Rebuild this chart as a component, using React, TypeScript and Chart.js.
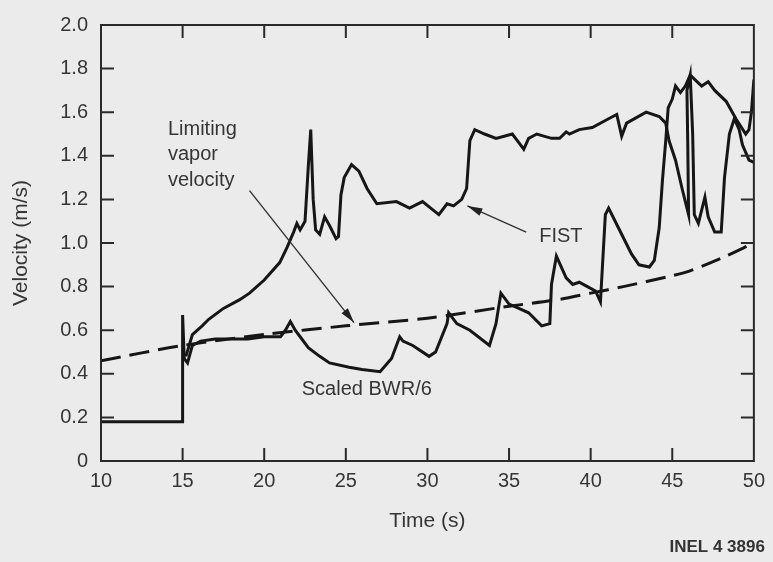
import React, { useEffect, useRef } from "react";
import { Chart, registerables } from "chart.js";

Chart.register(...registerables);

// Axis ticks
const xTickValues = [10, 15, 20, 25, 30, 35, 40, 45, 50];
const yTickValues = [0, 0.2, 0.4, 0.6, 0.8, 1.0, 1.2, 1.4, 1.6, 1.8, 2.0];

// FIST (upper curve)
const fistX = [15.2, 15.6, 16.2, 16.6, 17.5, 18.5, 19.1, 20.0, 20.95, 21.4, 21.8, 22.0, 22.2, 22.5, 22.7, 22.85, 23.0, 23.15, 23.4, 23.7, 24.0, 24.4, 24.55, 24.7, 24.9, 25.35, 25.8, 26.3, 26.9, 28.1, 28.9, 29.7, 30.2, 30.7, 31.2, 31.6, 32.1, 32.4, 32.6, 32.9, 33.5, 34.2, 34.7, 35.2, 35.6, 35.9, 36.2, 36.7, 37.6, 38.1, 38.5, 38.7, 39.3, 40.1, 41.1, 41.6, 41.9, 42.2, 43.4, 44.2, 44.6, 44.8, 45.2, 45.6, 45.9, 46.0, 45.95, 45.9, 46.1, 46.25, 46.35, 46.6, 47.0, 47.2, 47.6, 48.0, 48.2, 48.5, 48.8, 49.1, 49.3, 49.7, 50.0];
const fistY = [0.48, 0.58, 0.62, 0.65, 0.70, 0.74, 0.77, 0.83, 0.91, 0.98, 1.05, 1.09, 1.06, 1.10, 1.35, 1.52, 1.20, 1.06, 1.04, 1.12, 1.08, 1.02, 1.03, 1.22, 1.30, 1.36, 1.33, 1.25, 1.18, 1.19, 1.16, 1.19, 1.16, 1.13, 1.18, 1.17, 1.20, 1.25, 1.47, 1.52, 1.50, 1.48, 1.49, 1.50, 1.46, 1.43, 1.48, 1.50, 1.48, 1.48, 1.51, 1.50, 1.52, 1.53, 1.57, 1.59, 1.49, 1.55, 1.60, 1.58, 1.55, 1.47, 1.38, 1.25, 1.16, 1.13, 1.45, 1.70, 1.77, 1.50, 1.13, 1.09, 1.21, 1.12, 1.05, 1.05, 1.30, 1.50, 1.57, 1.52, 1.45, 1.38, 1.37];

// Scaled BWR/6 (lower curve)
const bwrX = [10.0, 15.0, 15.0, 15.1, 15.3, 15.6, 16.1, 17.0, 18.0, 19.0, 20.0, 21.0, 21.3, 21.6, 21.9, 22.2, 22.7, 23.4, 24.0, 25.2, 26.0, 27.1, 27.8, 28.3, 28.5, 29.1, 30.1, 30.5, 31.2, 31.3, 31.8, 32.6, 33.8, 34.2, 34.5, 35.0, 35.6, 36.2, 37.0, 37.5, 37.6, 37.9, 38.5, 38.9, 39.3, 39.8, 40.3, 40.6, 40.9, 41.1, 41.7, 42.5, 42.96, 43.6, 43.9, 44.2, 44.4, 44.6, 44.75, 45.0, 45.2, 45.5, 45.8, 46.1, 46.8, 47.2, 47.6, 48.3, 48.9, 49.5, 49.7, 49.85, 50.0];
const bwrY = [0.18, 0.18, 0.67, 0.47, 0.45, 0.53, 0.55, 0.56, 0.56, 0.56, 0.57, 0.57, 0.60, 0.64, 0.60, 0.57, 0.52, 0.48, 0.45, 0.43, 0.42, 0.41, 0.47, 0.57, 0.55, 0.53, 0.48, 0.50, 0.63, 0.68, 0.63, 0.60, 0.53, 0.63, 0.77, 0.72, 0.70, 0.68, 0.62, 0.63, 0.81, 0.94, 0.84, 0.81, 0.82, 0.80, 0.78, 0.73, 1.13, 1.16, 1.07, 0.95, 0.90, 0.89, 0.92, 1.07, 1.29, 1.47, 1.62, 1.66, 1.72, 1.69, 1.72, 1.77, 1.72, 1.74, 1.70, 1.65, 1.57, 1.50, 1.52, 1.60, 1.75];

// Limiting vapor velocity (dashed)
const limitX = [10, 15, 20, 25, 30, 35, 38, 40, 42, 45, 46, 48, 50];
const limitY = [0.46, 0.53, 0.58, 0.62, 0.655, 0.71, 0.74, 0.77, 0.80, 0.85, 0.87, 0.93, 1.0];

// Annotation text and arrows (in data units)
const limitLabelLines = ["Limiting", "vapor", "velocity"];
const limitLabelX = 14.1;
const limitLabelY = [1.52, 1.405, 1.285];
const limitArrow = [19.1, 1.24, 25.5, 0.635];
const fistLabel = "FIST";
const fistLabelPos = [36.85, 1.03];
const fistArrow = [36.05, 1.05, 32.45, 1.17];
const bwrLabel = "Scaled BWR/6";
const bwrLabelPos = [22.3, 0.33];
const figId = "INEL 4 3896";

const toPts = (xs: number[], ys: number[]) => xs.map((x, i) => ({ x, y: ys[i] }));

const FONT = "'Liberation Sans', Arial, Helvetica, sans-serif";
const TEXT = "#353535";
const INK = "#161616";
const BG = "#ebebeb";

const drawArrow = (ctx: CanvasRenderingContext2D, x1: number, y1: number, x2: number, y2: number) => {
  ctx.beginPath();
  ctx.moveTo(x1, y1);
  ctx.lineTo(x2, y2);
  ctx.stroke();
  const ang = Math.atan2(y2 - y1, x2 - x1);
  const L = 15, W = 4;
  ctx.beginPath();
  ctx.moveTo(x2, y2);
  ctx.lineTo(x2 - L * Math.cos(ang) + W * Math.sin(ang), y2 - L * Math.sin(ang) - W * Math.cos(ang));
  ctx.lineTo(x2 - L * Math.cos(ang) - W * Math.sin(ang), y2 - L * Math.sin(ang) + W * Math.cos(ang));
  ctx.closePath();
  ctx.fill();
};

const framePlugin = {
  id: "frame",
  beforeDraw(chart: any) {
    const { ctx, width, height } = chart;
    ctx.save();
    ctx.fillStyle = BG;
    ctx.fillRect(0, 0, width, height);
    ctx.restore();
  },
  afterDraw(chart: any) {
    const { ctx, chartArea, scales } = chart;
    const { left, right, top, bottom } = chartArea;
    const xs = scales.x, ys = scales.y;
    ctx.save();
    ctx.strokeStyle = "#2a2a2a";
    ctx.lineWidth = 2;
    ctx.strokeRect(left, top, right - left, bottom - top);
    const tl = 13;
    ctx.beginPath();
    xTickValues.slice(1, -1).forEach((v) => {
      const px = xs.getPixelForValue(v);
      ctx.moveTo(px, bottom);
      ctx.lineTo(px, bottom - tl);
      ctx.moveTo(px, top);
      ctx.lineTo(px, top + tl);
    });
    yTickValues.slice(1, -1).forEach((v) => {
      const py = ys.getPixelForValue(v);
      ctx.moveTo(left, py);
      ctx.lineTo(left + tl, py);
      ctx.moveTo(right, py);
      ctx.lineTo(right - tl, py);
    });
    ctx.stroke();

    // annotations
    ctx.fillStyle = TEXT;
    ctx.font = `20px ${FONT}`;
    ctx.textAlign = "left";
    ctx.textBaseline = "middle";
    limitLabelLines.forEach((t, i) => {
      ctx.fillText(t, xs.getPixelForValue(limitLabelX), ys.getPixelForValue(limitLabelY[i]));
    });
    ctx.fillText(fistLabel, xs.getPixelForValue(fistLabelPos[0]), ys.getPixelForValue(fistLabelPos[1]));
    ctx.fillText(bwrLabel, xs.getPixelForValue(bwrLabelPos[0]), ys.getPixelForValue(bwrLabelPos[1]));

    ctx.strokeStyle = "#333";
    ctx.fillStyle = "#222";
    ctx.lineWidth = 1.4;
    drawArrow(ctx, xs.getPixelForValue(limitArrow[0]), ys.getPixelForValue(limitArrow[1]), xs.getPixelForValue(limitArrow[2]), ys.getPixelForValue(limitArrow[3]));
    drawArrow(ctx, xs.getPixelForValue(fistArrow[0]), ys.getPixelForValue(fistArrow[1]), xs.getPixelForValue(fistArrow[2]), ys.getPixelForValue(fistArrow[3]));

    ctx.fillStyle = "#333";
    ctx.font = `bold 17px ${FONT}`;
    ctx.textAlign = "right";
    ctx.fillText(figId, right + 11, bottom + 86);
    ctx.restore();
  },
};

export default function App() {
  const ref = useRef<HTMLCanvasElement | null>(null);
  useEffect(() => {
    document.body.style.margin = "0";
    document.body.style.background = BG;
    const canvas = ref.current!;
    const chart = new Chart(canvas, {
      type: "line",
      data: {
        datasets: [
          {
            label: "FIST",
            data: toPts(fistX, fistY),
            borderColor: INK,
            borderWidth: 3,
            pointRadius: 0,
            tension: 0,
            fill: false,
          },
          {
            label: "Scaled BWR/6",
            data: toPts(bwrX, bwrY),
            borderColor: INK,
            borderWidth: 3,
            pointRadius: 0,
            tension: 0,
            fill: false,
          },
          {
            label: "Limiting vapor velocity",
            data: toPts(limitX, limitY),
            borderColor: INK,
            borderWidth: 3,
            borderDash: [20, 9],
            pointRadius: 0,
            tension: 0.3,
            fill: false,
          },
        ],
      },
      options: {
        animation: false,
        responsive: false,
        layout: { padding: { left: 0, right: 18, top: 13, bottom: 0 } },
        plugins: { legend: { display: false }, tooltip: { enabled: false } },
        scales: {
          x: {
            type: "linear",
            min: 10,
            max: 50,
            grid: { display: false, drawTicks: false, tickLength: 0 },
            border: { display: false },
            afterFit: (s: any) => { s.height = 101; },
            afterBuildTicks: (s: any) => { s.ticks = xTickValues.map((v) => ({ value: v })); },
            ticks: { color: TEXT, font: { family: FONT, size: 20 }, padding: 8, maxRotation: 0, autoSkip: false, callback: (v: any) => String(v) },
            title: { display: true, text: "Time (s)", color: TEXT, font: { family: FONT, size: 21 }, padding: { top: 12, bottom: 28 } },
          },
          y: {
            type: "linear",
            min: 0,
            max: 2,
            grid: { display: false, drawTicks: false, tickLength: 0 },
            border: { display: false },
            afterFit: (s: any) => { s.width = 101; },
            afterBuildTicks: (s: any) => { s.ticks = yTickValues.map((v) => ({ value: v })); },
            ticks: { color: TEXT, font: { family: FONT, size: 20 }, padding: 13, autoSkip: false, callback: (v: any) => (v === 0 ? "0" : Number(v).toFixed(1)) },
            title: { display: true, text: "Velocity (m/s)", color: TEXT, font: { family: FONT, size: 21 }, padding: { top: 9, bottom: 0 } },
          },
        },
      },
      plugins: [framePlugin],
    });
    return () => chart.destroy();
  }, []);
  return (
    <div style={{ width: 773, height: 562, background: BG }}>
      <canvas ref={ref} width={773} height={562} style={{ display: "block" }} />
    </div>
  );
}
